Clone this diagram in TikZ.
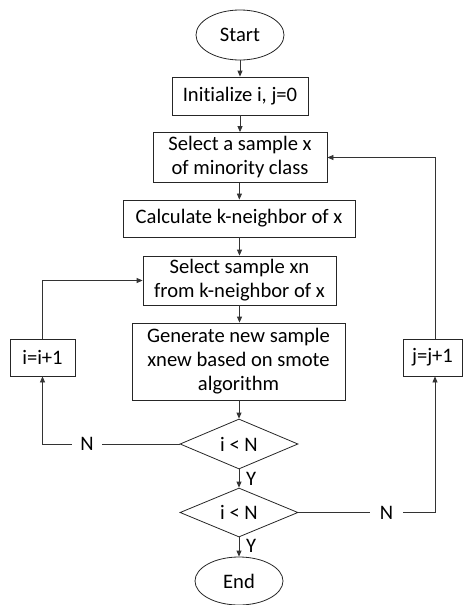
\documentclass[tikz,border=0pt]{standalone}
\usepackage{fontspec}
\setmainfont[Ligatures=NoCommon]{Carlito}
\usetikzlibrary{shapes.geometric,arrows.meta}
\begin{document}
\begin{tikzpicture}[x=1pt,y=-1pt,
  every node/.style={font=\fontsize{20.6}{24}\selectfont, inner sep=0pt, align=center},
  procbox/.style={draw=black!85, line width=0.8pt, rectangle},
  termin/.style={draw=black!85, line width=0.8pt, ellipse},
  decide/.style={draw=black!85, line width=0.8pt, diamond, shape aspect=2.36},
  arr/.style={draw=black!80, line width=0.8pt, -{Triangle[length=6pt,width=5pt]}},
  ln/.style={draw=black!80, line width=0.8pt}]
\useasboundingbox (0,0) rectangle (463,605);

\node[termin, minimum width=88, minimum height=50] (start) at (240,35) {Start};
\node[procbox, minimum width=136, minimum height=38] (init) at (240,96) {Initialize i, j=0};
\node[procbox, minimum width=174, minimum height=50] (selx) at (240,157.5) {Select a sample x\\of minority class};
\node[procbox, minimum width=232, minimum height=37] (calc) at (239,218.5) {Calculate k-neighbor of x};
\node[procbox, minimum width=193, minimum height=49] (selxn) at (239.5,280.5) {Select sample xn\\from k-neighbor of x};
\node[procbox, minimum width=213, minimum height=77] (gen) at (238.5,361.5) {Generate new sample\\xnew based on smote\\algorithm};
\node[decide, minimum width=118, minimum height=50] (d1) at (239,444) {i < N};
\node[decide, minimum width=118, minimum height=49] (d2) at (239,512.5) {i < N};
\node[termin, minimum width=88, minimum height=48] (end) at (239,581) {End};
\node[procbox, minimum width=65, minimum height=37] (ibox) at (42.5,357.5) {i=i+1};
\node[procbox, minimum width=59, minimum height=37] (jbox) at (432.5,357.5) {j=j+1};

\node[minimum width=30] (nl) at (87,444) {N};
\node[minimum width=33] (nr) at (386.5,512.5) {N};
\node[anchor=west] (y1) at (246,479) {Y};
\node[anchor=west] (y2) at (246,546) {Y};

\draw[arr] (start) -- (init);
\draw[arr] (init) -- (selx);
\draw[arr] (selx) -- (calc);
\draw[arr] (calc.south -| selxn.north) -- (selxn);
\draw[arr] (selxn) -- (gen.north -| selxn.south);
\draw[arr] (gen.south -| d1.north) -- (d1);
\draw[arr] (d1) -- (d2);
\draw[arr] (d2) -- (end);

\draw[ln] (d1.west) -- (nl);
\draw[arr] (nl) -| (ibox.south);
\draw[arr] (ibox.north) |- (selxn.west);

\draw[ln] (d2.east) -- (nr);
\draw[arr] (nr) -| ([xshift=2.5pt]jbox.south);
\draw[arr] ([xshift=2.5pt]jbox.north) |- (selx.east);
\end{tikzpicture}
\end{document}
